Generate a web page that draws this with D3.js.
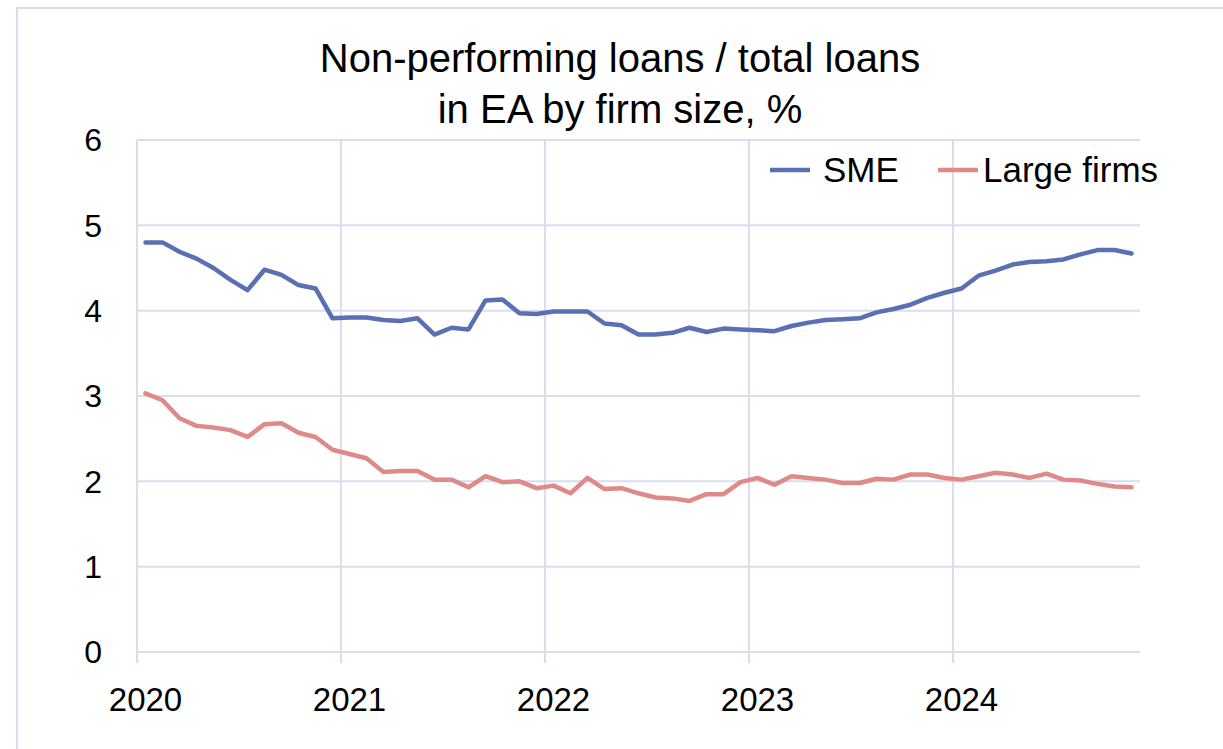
<!DOCTYPE html>
<html>
<head>
<meta charset="utf-8">
<script src="https://cdn.jsdelivr.net/npm/d3@7"></script>
<style>
  html, body { margin: 0; padding: 0; background: #fff; }
  svg { display: block; }
  text { font-family: "Liberation Sans", Arial, sans-serif; fill: #000; }
</style>
</head>
<body>
<svg id="chart" width="1223" height="749"></svg>
<script>
// Monthly NPL ratios, Jan 2020 – Nov 2024 (%)
const yearLabels = ["2020", "2021", "2022", "2023", "2024"];
const yTicks = [0, 1, 2, 3, 4, 5, 6];

const smeValues = [
  4.80, 4.80, 4.69, 4.61, 4.50, 4.36, 4.24, 4.48, 4.42, 4.30, 4.26, 3.91,
  3.92, 3.92, 3.89, 3.88, 3.91, 3.72, 3.80, 3.78, 4.12, 4.13, 3.97, 3.96,
  3.99, 3.99, 3.99, 3.85, 3.83, 3.72, 3.72, 3.74, 3.80, 3.75, 3.79, 3.78,
  3.77, 3.76, 3.82, 3.86, 3.89, 3.90, 3.91, 3.98, 4.02, 4.07, 4.15, 4.21,
  4.26, 4.41, 4.47, 4.54, 4.57, 4.58, 4.60, 4.66, 4.71, 4.71, 4.67
];
const largeValues = [
  3.03, 2.95, 2.74, 2.65, 2.63, 2.60, 2.52, 2.67, 2.68, 2.57, 2.52, 2.37,
  2.32, 2.27, 2.11, 2.12, 2.12, 2.02, 2.02, 1.93, 2.06, 1.99, 2.00, 1.92,
  1.95, 1.86, 2.04, 1.91, 1.92, 1.86, 1.81, 1.80, 1.77, 1.85, 1.85, 1.99,
  2.04, 1.96, 2.06, 2.04, 2.02, 1.98, 1.98, 2.03, 2.02, 2.08, 2.08, 2.04,
  2.02, 2.06, 2.10, 2.08, 2.04, 2.09, 2.02, 2.01, 1.97, 1.94, 1.93
];

const series = [
  { name: "SME", values: smeValues, color: "#5b6fb3" },
  { name: "Large firms", values: largeValues, color: "#df8a89" }
];

const svg = d3.select("#chart");
const gridColor = "#d9ddee";

// outer chart border
svg.append("rect")
  .attr("x", 17).attr("y", 8)
  .attr("width", 1300).attr("height", 800)
  .attr("fill", "none").attr("stroke", gridColor).attr("stroke-width", 2);

const plot = { left: 137, right: 1140, top: 140, bottom: 652 };
const nMonths = smeValues.length;

// months as index: each month occupies one slot, point at slot centre
const x = d3.scaleLinear().domain([0, nMonths]).range([plot.left, plot.right]);
const y = d3.scaleLinear().domain([0, 6]).range([plot.bottom, plot.top]);

// horizontal gridlines
svg.append("g").selectAll("line").data(yTicks).join("line")
  .attr("x1", plot.left).attr("x2", plot.right)
  .attr("y1", d => y(d)).attr("y2", d => y(d))
  .attr("stroke", gridColor).attr("stroke-width", 2);

// vertical gridlines at each January, extending below axis as ticks
const yearIdx = yearLabels.map((_, i) => i * 12);
svg.append("g").selectAll("line").data(yearIdx).join("line")
  .attr("x1", d => x(d)).attr("x2", d => x(d))
  .attr("y1", plot.top).attr("y2", plot.bottom + 11)
  .attr("stroke", gridColor).attr("stroke-width", 2);

// y labels
svg.append("g").selectAll("text").data(yTicks).join("text")
  .attr("x", 102).attr("y", d => y(d))
  .attr("dy", "0.35em")
  .attr("text-anchor", "end")
  .style("font-size", "32px")
  .text(d => d);

// x labels, centred on each January
svg.append("g").selectAll("text").data(yearLabels).join("text")
  .attr("x", (d, i) => x(i * 12 + 0.5))
  .attr("y", 711)
  .attr("text-anchor", "middle")
  .style("font-size", "33px")
  .text(d => d);

// lines
const line = d3.line().x((d, i) => x(i + 0.5)).y(d => y(d));
svg.append("g").selectAll("path").data(series).join("path")
  .attr("d", d => line(d.values))
  .attr("fill", "none")
  .attr("stroke", d => d.color)
  .attr("stroke-width", 4.5)
  .attr("stroke-linejoin", "round")
  .attr("stroke-linecap", "round");

// title
svg.append("text")
  .attr("x", 620).attr("y", 72)
  .attr("text-anchor", "middle")
  .style("font-size", "40px")
  .text("Non-performing loans / total loans");
svg.append("text")
  .attr("x", 620).attr("y", 123)
  .attr("text-anchor", "middle")
  .style("font-size", "40px")
  .text("in EA by firm size, %");

// legend
const legendPos = [{ x: 770, tx: 53 }, { x: 938, tx: 45 }];
const lg = svg.append("g").selectAll("g").data(series).join("g")
  .attr("transform", (d, i) => `translate(${legendPos[i].x},170)`);
lg.append("line")
  .attr("x1", 0).attr("x2", 40)
  .attr("stroke", d => d.color).attr("stroke-width", 4.5);
lg.append("text")
  .attr("x", (d, i) => legendPos[i].tx).attr("dy", "0.35em")
  .style("font-size", "35px")
  .text(d => d.name);
</script>
</body>
</html>
